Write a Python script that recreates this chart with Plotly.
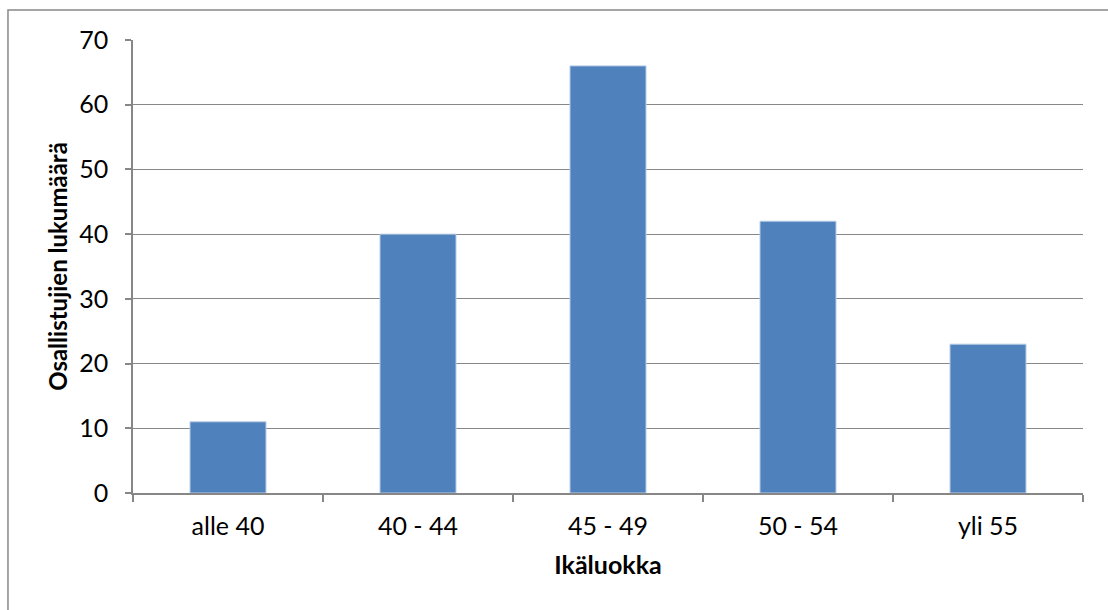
import plotly.graph_objects as go

# Age groups and participant counts
categories = ["alle 40", "40 - 44", "45 - 49", "50 - 54", "yli 55"]
counts = [11, 40, 66, 42, 23]
y_ticks = [0, 10, 20, 30, 40, 50, 60, 70]

FONT = "Lato, Calibri, sans-serif"
GRID = "#878787"

fig = go.Figure(
    go.Bar(
        x=categories,
        y=counts,
        marker=dict(color="#4F81BD", line=dict(color="#B9CDE5", width=1)),
        width=0.4,
    )
)

# outer chart frame
fig.add_shape(
    type="rect", xref="paper", yref="paper",
    x0=-0.1316, x1=1.2, y0=-0.5, y1=1.0662,
    line=dict(color="#888888", width=1.5), fillcolor="rgba(0,0,0,0)",
    layer="below",
)

fig.update_layout(
    width=1108, height=610,
    margin=dict(l=133, r=25, t=40, b=117),
    paper_bgcolor="white", plot_bgcolor="white",
    font=dict(family=FONT, size=25, color="#000000"),
    showlegend=False,
    bargap=0.6,
)
fig.update_xaxes(
    type="category",
    showline=True, linecolor=GRID, linewidth=1.5,
    ticks="outside", tickson="boundaries", ticklen=7, tickcolor=GRID, tickwidth=1.5,
    tickfont=dict(family=FONT, size=25), ticklabelstandoff=10,
    title=dict(text="<b>Ikäluokka</b>", font=dict(family=FONT, size=25), standoff=18),
)
fig.update_yaxes(
    range=[0, 70], tickvals=y_ticks,
    showline=True, linecolor=GRID, linewidth=1.5,
    showgrid=True, gridcolor=GRID, gridwidth=1.3,
    ticks="outside", ticklen=6, tickcolor=GRID, tickwidth=1.5,
    tickfont=dict(family=FONT, size=25), ticklabelstandoff=12,
    title=dict(text="<b>Osallistujien lukumäärä</b>", font=dict(family=FONT, size=24), standoff=5),
    zeroline=False,
)

fig.write_html("out.html")
